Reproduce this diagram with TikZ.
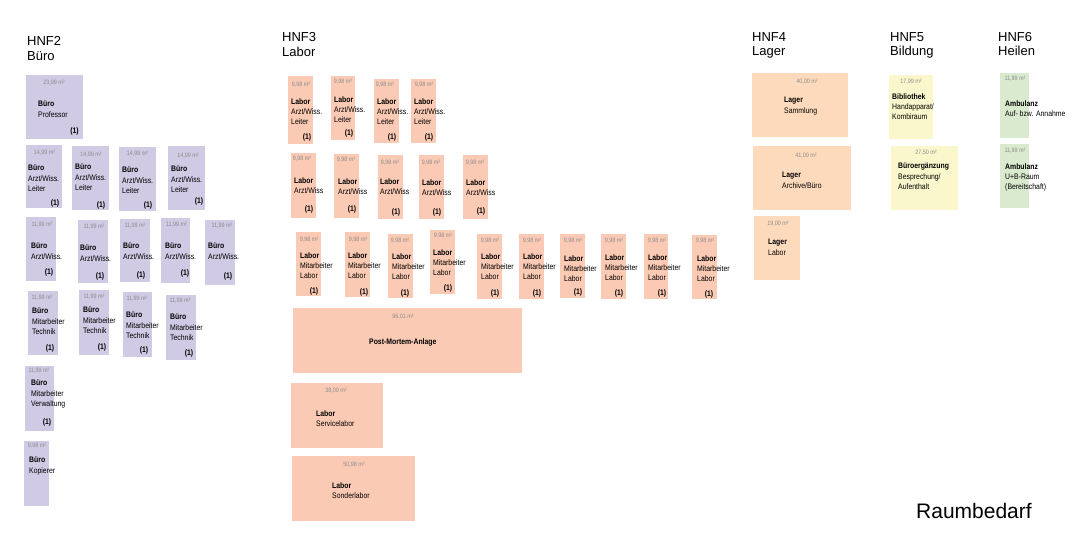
\documentclass[tikz,border=0pt]{standalone}
\usepackage{fontspec}
\setmainfont{Liberation Sans}
\newfontfamily\roomfont[FakeStretch=0.86]{Liberation Sans}
\definecolor{cbuero}{RGB}{208,202,228}
\definecolor{clabor}{RGB}{251,202,180}
\definecolor{clager}{RGB}{253,218,188}
\definecolor{cbild}{RGB}{250,247,204}
\definecolor{cheil}{RGB}{217,234,206}
\definecolor{areagray}{RGB}{140,140,140}
\tikzset{
  roombox/.style={anchor=north west, inner sep=0pt, outer sep=0pt, draw=none},
  arealbl/.style={inner sep=0pt, text=areagray, font=\roomfont\fontsize{6.3}{7}\selectfont},
  roomtxt/.style={anchor=north west, inner sep=0pt, align=left, font=\roomfont\fontsize{8}{10.3}\selectfont},
  onelbl/.style={inner sep=0pt, font=\roomfont\bfseries\fontsize{8}{9}\selectfont},
  titlelbl/.style={anchor=base west, inner sep=0pt, font=\fontsize{13}{15}\selectfont},
  biglbl/.style={anchor=base west, inner sep=0pt, font=\fontsize{21}{24}\selectfont}
}
\newcommand\rbox[6]{\node[roombox, fill=#2, minimum width={(#5-#3)*1pt}, minimum height={(#6-#4)*1pt}] (#1) at (#3,#4) {};}
\newcommand\rarea[4]{\node[arealbl] (#1-a) at (#2,#3) {#4};}
\newcommand\rtext[4]{\node[roomtxt] (#1-t) at (#2,#3) {#4};}
\newcommand\rone[3]{\node[onelbl] (#1-o) at (#2,#3) {(1)};}
\begin{document}
\begin{tikzpicture}[x=1pt,y=-1pt]
\useasboundingbox (0,0) rectangle (1085,550);
% titles
\node[titlelbl] (t2a) at (27,45) {HNF2};
\node[titlelbl] (t2b) at (27,60) {Büro};
\node[titlelbl] (t3a) at (282,41) {HNF3};
\node[titlelbl] (t3b) at (282,56) {Labor};
\node[titlelbl] (t4a) at (752,41) {HNF4};
\node[titlelbl] (t4b) at (752,55.5) {Lager};
\node[titlelbl] (t5a) at (890,41) {HNF5};
\node[titlelbl] (t5b) at (890,55.5) {Bildung};
\node[titlelbl] (t6a) at (998,41) {HNF6};
\node[titlelbl] (t6b) at (998,55.5) {Heilen};
\node[biglbl] (raum) at (916,518) {Raumbedarf};
% HNF2
\rbox{p1}{cbuero}{26}{75}{83}{139}
\rarea{p1}{54}{83}{23,99 m²}
\rtext{p1}{38}{101}{\textbf{Büro}\\Professor}
\rone{p1}{74.5}{131.5}
\rbox{p2}{cbuero}{26}{145}{62}{208}
\rarea{p2}{44.5}{153}{14,99 m²}
\rtext{p2}{28}{165}{\textbf{Büro}\\Arzt/Wiss.\\Leiter}
\rone{p2}{55}{203}
\rbox{p3}{cbuero}{72}{146}{109}{210}
\rarea{p3}{91}{155}{14,99 m²}
\rtext{p3}{75}{164}{\textbf{Büro}\\Arzt/Wiss.\\Leiter}
\rone{p3}{101}{205}
\rbox{p4}{cbuero}{119}{147}{156}{211}
\rarea{p4}{137.5}{154}{14,99 m²}
\rtext{p4}{122}{167}{\textbf{Büro}\\Arzt/Wiss.\\Leiter}
\rone{p4}{148}{205}
\rbox{p5}{cbuero}{168}{146}{205}{210}
\rarea{p5}{188}{156}{14,99 m²}
\rtext{p5}{171}{166}{\textbf{Büro}\\Arzt/Wiss.\\Leiter}
\rone{p5}{199}{201}
\rbox{p6}{cbuero}{26}{217}{56}{281}
\rarea{p6}{42}{225}{11,99 m²}
\rtext{p6}{31}{243}{\textbf{Büro}\\Arzt/Wiss.}
\rone{p6}{49}{272}
\rbox{p7}{cbuero}{78}{220}{108}{283}
\rarea{p7}{94}{227}{11,99 m²}
\rtext{p7}{80}{245}{\textbf{Büro}\\Arzt/Wiss.}
\rone{p7}{100}{276}
\rbox{p8}{cbuero}{120}{219}{150}{282}
\rarea{p8}{135}{226}{11,99 m²}
\rtext{p8}{123}{243}{\textbf{Büro}\\Arzt/Wiss.}
\rone{p8}{141}{275}
\rbox{p9}{cbuero}{161}{218}{190}{283}
\rarea{p9}{176.5}{225}{11,99 m²}
\rtext{p9}{165}{243}{\textbf{Büro}\\Arzt/Wiss.}
\rone{p9}{185}{273}
\rbox{p10}{cbuero}{205}{220}{235}{285}
\rarea{p10}{222}{226}{11,99 m²}
\rtext{p10}{208}{243}{\textbf{Büro}\\Arzt/Wiss.}
\rone{p10}{228}{276}
\rbox{p11}{cbuero}{28}{291}{58}{355}
\rarea{p11}{42}{298}{11,99 m²}
\rtext{p11}{32}{308}{\textbf{Büro}\\Mitarbeiter\\Technik}
\rone{p11}{50}{348}
\rbox{p12}{cbuero}{79}{290}{109}{355}
\rarea{p12}{94}{297}{11,99 m²}
\rtext{p12}{83}{307}{\textbf{Büro}\\Mitarbeiter\\Technik}
\rone{p12}{102}{347}
\rbox{p13}{cbuero}{123}{292}{152}{357}
\rarea{p13}{137}{299}{11,99 m²}
\rtext{p13}{126}{312}{\textbf{Büro}\\Mitarbeiter\\Technik}
\rone{p13}{144}{350}
\rbox{p14}{cbuero}{166}{295}{196}{360}
\rarea{p14}{180}{301}{11,99 m²}
\rtext{p14}{170}{314}{\textbf{Büro}\\Mitarbeiter\\Technik}
\rone{p14}{189}{353}
\rbox{p15}{cbuero}{25}{366}{54}{431}
\rarea{p15}{39}{371}{11,99 m²}
\rtext{p15}{31}{380}{\textbf{Büro}\\Mitarbeiter\\Verwaltung}
\rone{p15}{47}{422}
\rbox{p16}{cbuero}{24}{441}{49}{506}
\rarea{p16}{37}{446}{9,98 m²}
\rtext{p16}{29}{457}{\textbf{Büro}\\Kopierer}
% HNF3
\rbox{l1}{clabor}{288}{76}{313}{144}
\rarea{l1}{301}{85}{9,98 m²}
\rtext{l1}{291}{98}{\textbf{Labor}\\Arzt/Wiss.\\Leiter}
\rone{l1}{307}{137}
\rbox{l2}{clabor}{331}{76}{355}{140}
\rarea{l2}{343}{82}{9,98 m²}
\rtext{l2}{334}{96}{\textbf{Labor}\\Arzt/Wiss.\\Leiter}
\rone{l2}{349}{133}
\rbox{l3}{clabor}{374}{79}{399}{143}
\rarea{l3}{385}{85}{9,98 m²}
\rtext{l3}{377}{98}{\textbf{Labor}\\Arzt/Wiss.\\Leiter}
\rone{l3}{392}{137}
\rbox{l4}{clabor}{411}{79}{436}{143}
\rarea{l4}{424}{85}{9,98 m²}
\rtext{l4}{414}{98}{\textbf{Labor}\\Arzt/Wiss.\\Leiter}
\rone{l4}{429}{137}
\rbox{l5}{clabor}{291}{153}{316}{218}
\rarea{l5}{302}{159}{9,98 m²}
\rtext{l5}{294}{177}{\textbf{Labor}\\Arzt/Wiss}
\rone{l5}{309}{209}
\rbox{l6}{clabor}{334}{154}{359}{218}
\rarea{l6}{346}{160}{9,98 m²}
\rtext{l6}{338}{178}{\textbf{Labor}\\Arzt/Wiss}
\rone{l6}{352}{209}
\rbox{l7}{clabor}{378}{155}{403}{219}
\rarea{l7}{390}{163}{9,98 m²}
\rtext{l7}{380}{178}{\textbf{Labor}\\Arzt/Wiss}
\rone{l7}{396}{212}
\rbox{l8}{clabor}{419}{155}{444}{219}
\rarea{l8}{431}{163}{9,98 m²}
\rtext{l8}{422}{179}{\textbf{Labor}\\Arzt/Wiss}
\rone{l8}{437}{212}
\rbox{l9}{clabor}{463}{155}{488}{219}
\rarea{l9}{475}{163}{9,98 m²}
\rtext{l9}{466}{179}{\textbf{Labor}\\Arzt/Wiss}
\rone{l9}{481}{211}
\rbox{l10}{clabor}{296}{232}{321}{296}
\rarea{l10}{309}{240}{9,98 m²}
\rtext{l10}{300}{252}{\textbf{Labor}\\Mitarbeiter\\Labor}
\rone{l10}{314}{291}
\rbox{l11}{clabor}{345}{232}{370}{297}
\rarea{l11}{358}{240}{9,98 m²}
\rtext{l11}{348}{252}{\textbf{Labor}\\Mitarbeiter\\Labor}
\rone{l11}{364}{292}
\rbox{l12}{clabor}{388}{234}{413}{298}
\rarea{l12}{400}{241}{9,98 m²}
\rtext{l12}{392}{253}{\textbf{Labor}\\Mitarbeiter\\Labor}
\rone{l12}{405}{293}
\rbox{l13}{clabor}{430}{230}{455}{294}
\rarea{l13}{443}{236}{9,98 m²}
\rtext{l13}{433}{249}{\textbf{Labor}\\Mitarbeiter\\Labor}
\rone{l13}{448}{288}
\rbox{l14}{clabor}{477}{234}{502}{299}
\rarea{l14}{490}{241}{9,98 m²}
\rtext{l14}{481}{253}{\textbf{Labor}\\Mitarbeiter\\Labor}
\rone{l14}{495}{293}
\rbox{l15}{clabor}{519}{234}{544}{299}
\rarea{l15}{532}{241}{9,98 m²}
\rtext{l15}{523}{253}{\textbf{Labor}\\Mitarbeiter\\Labor}
\rone{l15}{537}{293}
\rbox{l16}{clabor}{560}{234}{585}{298}
\rarea{l16}{573}{241}{9,98 m²}
\rtext{l16}{564}{255}{\textbf{Labor}\\Mitarbeiter\\Labor}
\rone{l16}{578}{292}
\rbox{l17}{clabor}{601}{234}{626}{299}
\rarea{l17}{614}{241}{9,98 m²}
\rtext{l17}{605}{254}{\textbf{Labor}\\Mitarbeiter\\Labor}
\rone{l17}{619}{293}
\rbox{l18}{clabor}{644}{234}{668}{299}
\rarea{l18}{657}{241}{9,98 m²}
\rtext{l18}{648}{254}{\textbf{Labor}\\Mitarbeiter\\Labor}
\rone{l18}{662}{293}
\rbox{l19}{clabor}{692}{235}{717}{299}
\rarea{l19}{705}{241}{9,98 m²}
\rtext{l19}{697}{255}{\textbf{Labor}\\Mitarbeiter\\Labor}
\rone{l19}{709}{294}
\rbox{l20}{clabor}{293}{308}{522}{373}
\rarea{l20}{403}{317}{96,01 m²}
\rtext{l20}{369}{338}{\textbf{Post-Mortem-Anlage}}
\rbox{l21}{clabor}{291}{383}{383}{448}
\rarea{l21}{336}{391}{38,00 m²}
\rtext{l21}{316}{410}{\textbf{Labor}\\Servicelabor}
\rbox{l22}{clabor}{292}{456}{415}{521}
\rarea{l22}{354}{465}{50,98 m²}
\rtext{l22}{332}{482}{\textbf{Labor}\\Sonderlabor}
% HNF4
\rbox{g1}{clager}{752}{73}{848}{137}
\rarea{g1}{807}{82}{40,00 m²}
\rtext{g1}{784}{97}{\textbf{Lager}\\Sammlung}
\rbox{g2}{clager}{753}{146}{851}{210}
\rarea{g2}{806}{156}{41,00 m²}
\rtext{g2}{782}{172}{\textbf{Lager}\\Archive/Büro}
\rbox{g3}{clager}{754}{216}{800}{280}
\rarea{g3}{778}{224}{19,00 m²}
\rtext{g3}{768}{239}{\textbf{Lager}\\Labor}
% HNF5
\rbox{b1}{cbild}{889}{75}{933}{139}
\rarea{b1}{911}{82}{17,99 m²}
\rtext{b1}{892}{93}{\textbf{Bibliothek}\\Handapparat/\\Kombiraum}
\rbox{b2}{cbild}{891}{146}{958}{210}
\rarea{b2}{926}{153}{27,50 m²}
\rtext{b2}{898}{163}{\textbf{Büroergänzung}\\Besprechung/\\Aufenthalt}
% HNF6
\rbox{h1}{cheil}{1000}{73}{1029}{138}
\rarea{h1}{1015}{79}{11,99 m²}
\rtext{h1}{1005}{100}{\textbf{Ambulanz}\\Auf- bzw. Annahme}
\rbox{h2}{cheil}{1000}{144}{1029}{208}
\rarea{h2}{1015}{151}{11,99 m²}
\rtext{h2}{1005}{163}{\textbf{Ambulanz}\\U+B-Raum\\(Bereitschaft)}
\end{tikzpicture}
\end{document}
